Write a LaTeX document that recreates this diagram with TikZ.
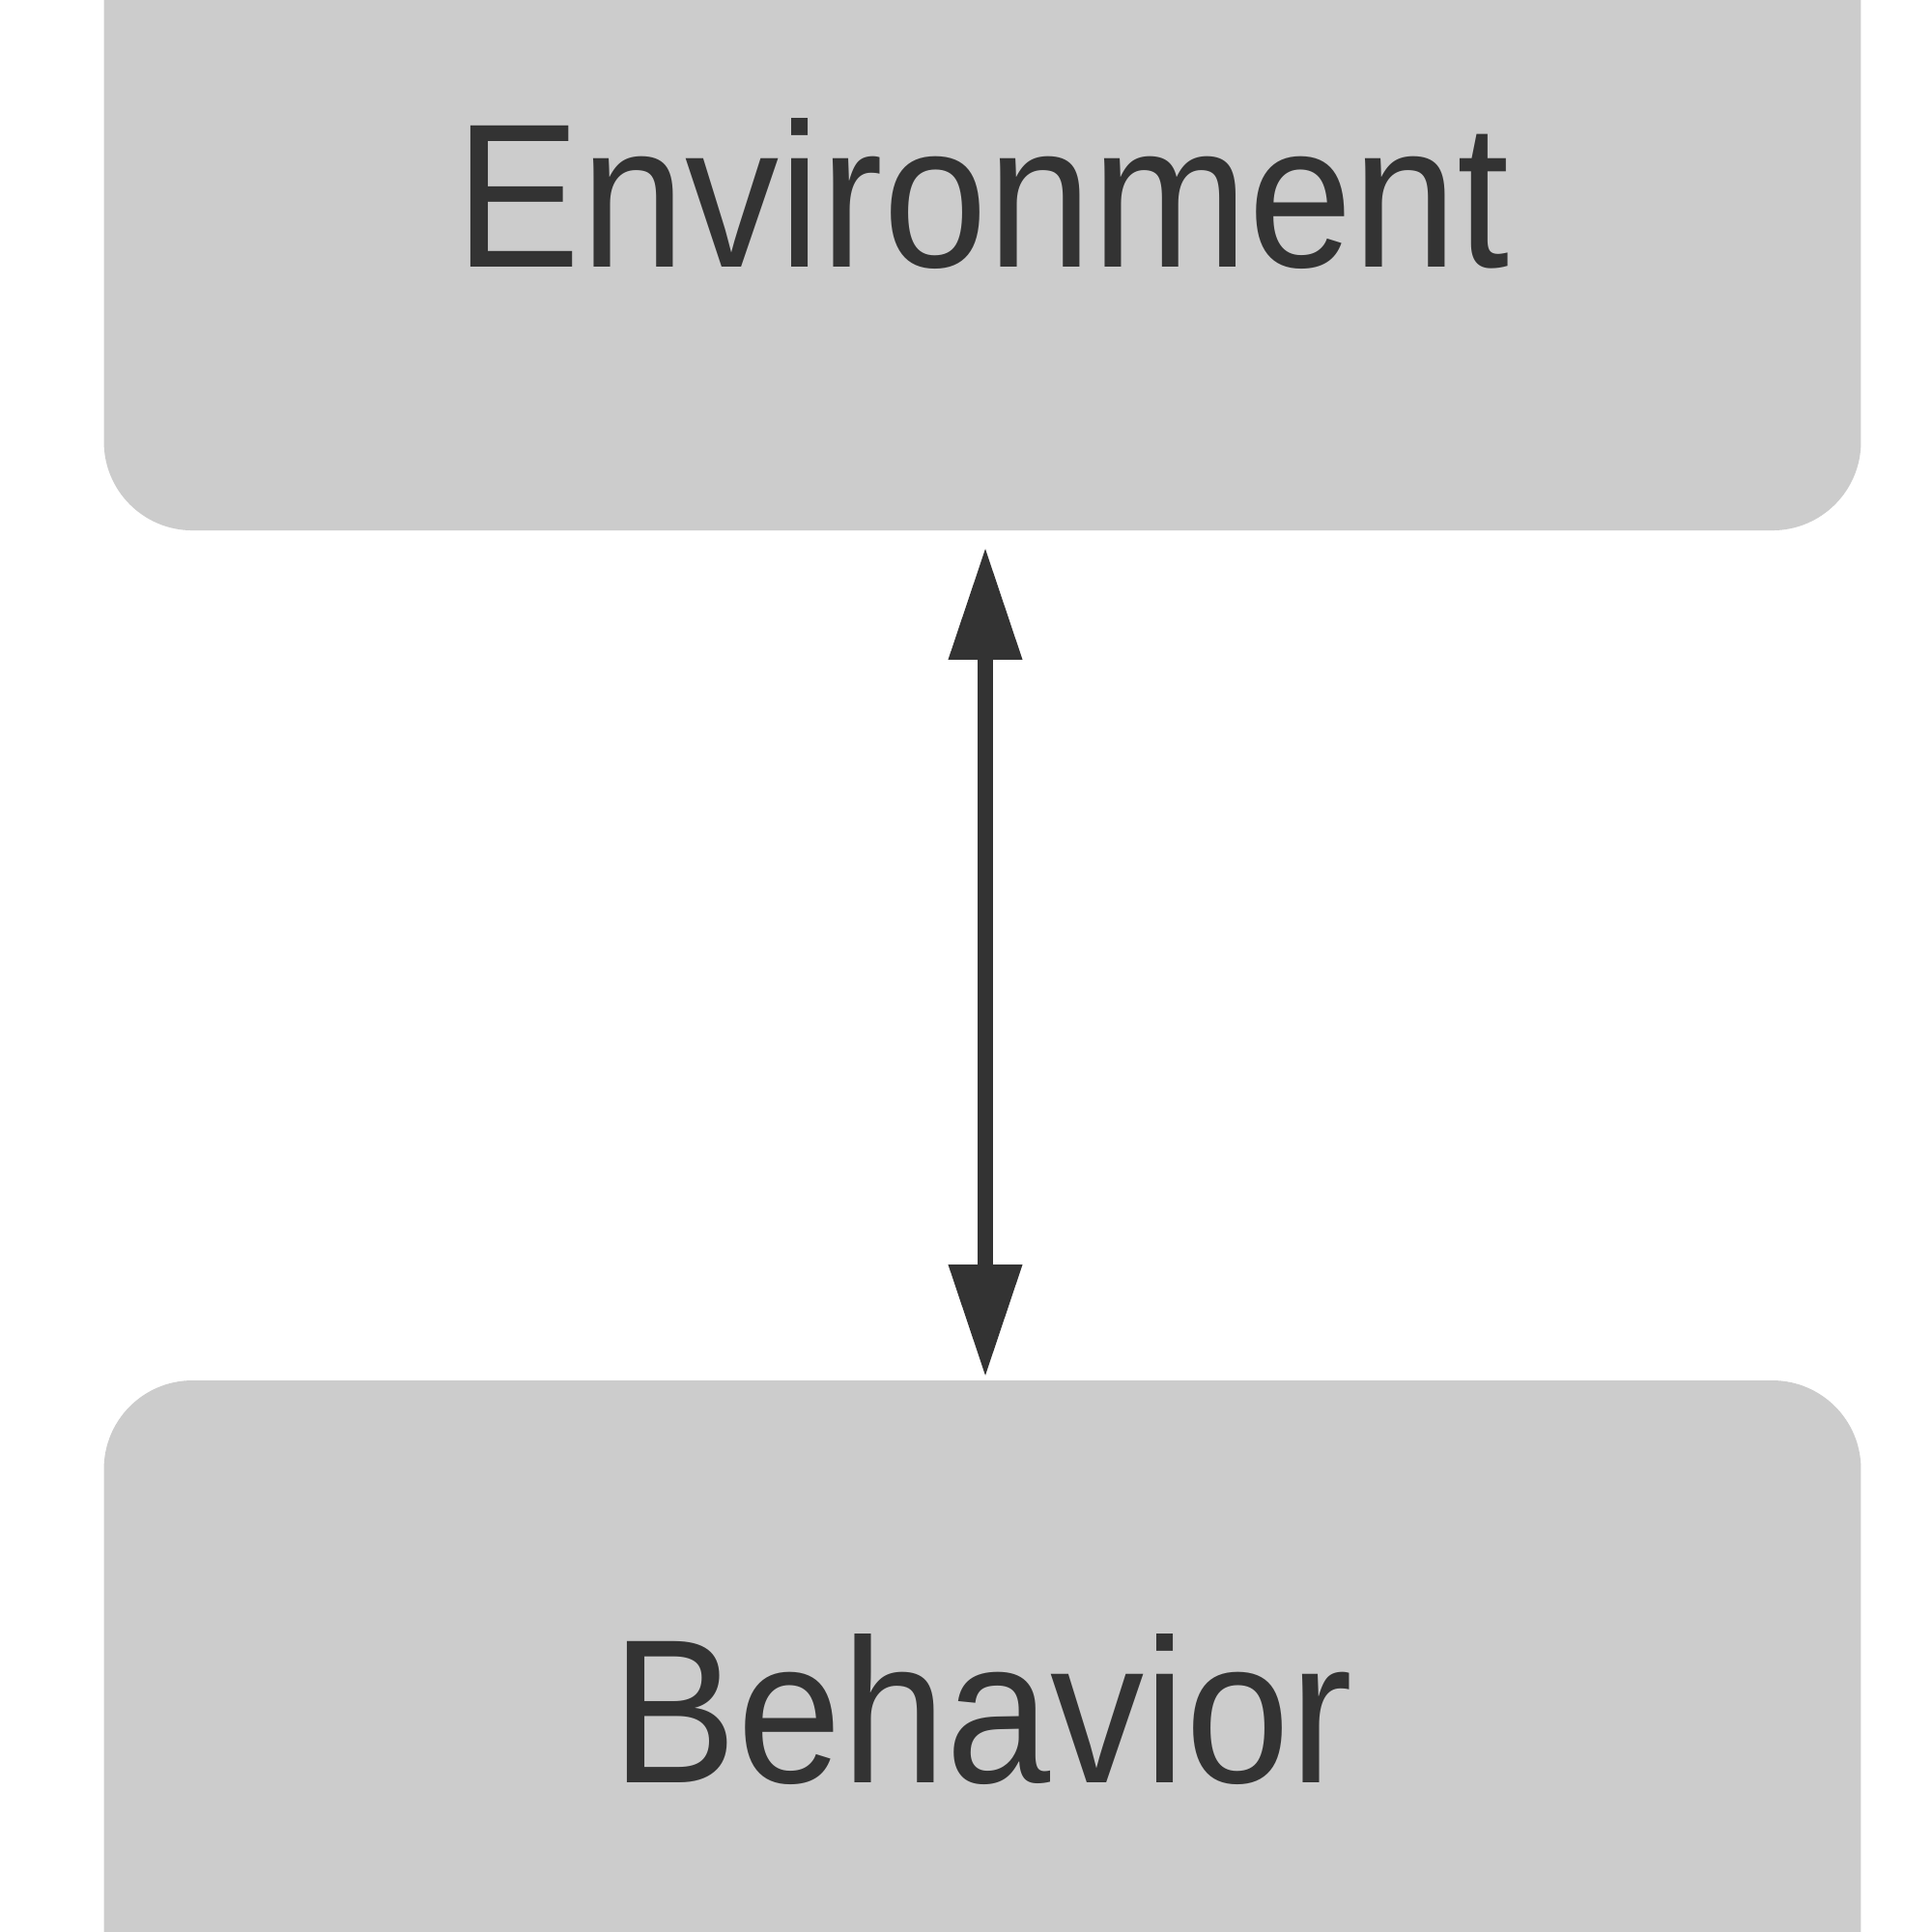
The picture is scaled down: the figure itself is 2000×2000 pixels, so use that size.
\documentclass[tikz,border=0pt]{standalone}
\usepackage{fontspec}
\setmainfont{Liberation Sans}
\usetikzlibrary{arrows.meta}
\definecolor{boxgray}{HTML}{CCCCCC}
\definecolor{ink}{HTML}{333333}
\tikzset{
  stagebox/.style={rectangle, rounded corners=33pt, fill=boxgray, draw=none,
    minimum width=654.8pt, text=ink, inner sep=0pt,
    font=\fontsize{76.5}{82}\selectfont},
  link/.style={draw=ink, line width=5.8pt,
    {Triangle[length=42pt,width=26pt]}-{Triangle[length=42pt,width=26pt]}}
}
\begin{document}
\begin{tikzpicture}[x=0.36pt,y=-0.36pt]
\useasboundingbox (0,0) rectangle (2000,2000);
\clip (0,0) rectangle (2000,2000);
\fill[white] (0,0) rectangle (2000,2000);
\node[stagebox, minimum height=250.6pt] (env) at (1017,201) {\scalebox{0.914}[1]{Environment}};
\node[stagebox, minimum height=245.5pt] (beh) at (1017,1770) {\scalebox{0.914}[1]{Behavior}};
\draw[link, shorten <=6pt, shorten >=1pt] (env.south -| 1020,0) -- (beh.north -| 1020,0);
\end{tikzpicture}
\end{document}
